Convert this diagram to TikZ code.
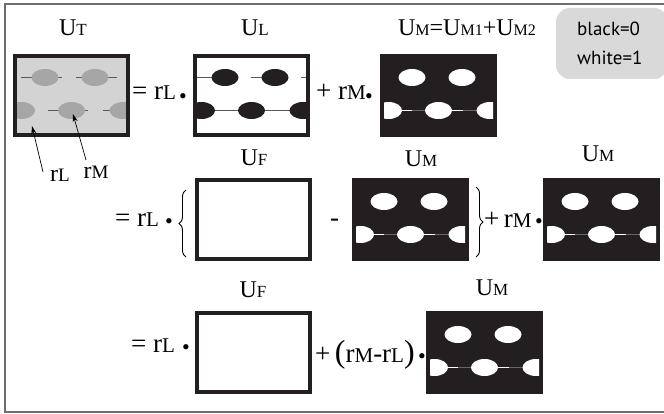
\documentclass[tikz,border=0pt]{standalone}
\usepackage{fontspec}
\setmainfont{Liberation Serif}
\newfontfamily\keyfont{PT Sans}
\usetikzlibrary{decorations.pathreplacing,arrows.meta}
\definecolor{ublack}{HTML}{231F20}
\definecolor{tbg}{HTML}{D3D3D3}
\definecolor{tell}{HTML}{A6A6A6}
\definecolor{keygray}{HTML}{D9D9D9}
\definecolor{framegray}{HTML}{6E6E6E}
\newcommand\sub[1]{{\fontsize{16}{16}\selectfont #1}}
\newcommand\subb[1]{{\fontsize{19}{19}\selectfont #1}}
\newcommand\subc[1]{{\fontsize{17}{17}\selectfont #1}}
\newcommand\subd[1]{{\fontsize{21}{21}\selectfont #1}}
\newcommand\ellset[1]{%
  \foreach \ex/\ey in {32/23.5,82/23.5,8.5/56.5,58.5/56.5,110/56.5}
    \fill[#1] (\ex,\ey) ellipse [x radius=13.5,y radius=8.5];}
\newcommand\UTbox[3]{%
  \node[boxn] (#1) at (#2+58.5,#3+41.5) {};
  \begin{scope}[shift={(#2,#3)}]
    \fill[tbg] (0,0) rectangle (117,83);
    \begin{scope}
      \clip (4,4) rectangle (113,79);
      \draw[gray!70!black, line width=1pt] (8,23.5)--(49,23.5) (63,23.5)--(104,23.5)
        (35,56.5)--(75,56.5) (90,56.5)--(113,56.5);
      \ellset{tell}
    \end{scope}
    \draw[ublack, line width=4pt] (2,2) rectangle (115,81);
  \end{scope}}
\newcommand\ULbox[3]{%
  \node[boxn] (#1) at (#2+58.5,#3+41.5) {};
  \begin{scope}[shift={(#2,#3)}]
    \fill[white] (0,0) rectangle (117,83);
    \begin{scope}
      \clip (4,4) rectangle (113,79);
      \draw[ublack!75, line width=1pt] (4,23.5)--(20,23.5) (58,23.5)--(70,23.5)
        (108,23.5)--(113,23.5) (4,56.5)--(113,56.5);
      \ellset{ublack}
    \end{scope}
    \draw[ublack, line width=4pt] (2,2) rectangle (115,81);
  \end{scope}}
\newcommand\UMbox[3]{%
  \node[boxn] (#1) at (#2+58.5,#3+41.5) {};
  \begin{scope}[shift={(#2,#3)}]
    \fill[ublack] (0,0) rectangle (117,83);
    \begin{scope}
      \clip (4,4) rectangle (113,79);
      \draw[gray!80!black, line width=1pt] (4,56.5)--(113,56.5);
      \draw[white, line width=1pt] (21,56.5)--(32,56.5) (71,56.5)--(83,56.5);
      \ellset{white}
    \end{scope}
  \end{scope}}
\newcommand\UFbox[3]{%
  \node[boxn] (#1) at (#2+58.5,#3+41.5) {};
  \begin{scope}[shift={(#2,#3)}]
    \draw[ublack, line width=4pt] (2,2) rectangle (115,81);
  \end{scope}}
\tikzset{
  boxn/.style={minimum width=117pt, minimum height=83pt, inner sep=0pt, draw=none},
  lbl/.style={font=\fontsize{24}{24}\selectfont, inner sep=0pt, anchor=base},
  eqn/.style={font=\fontsize{27}{27}\selectfont, inner sep=0pt, anchor=base west},
  dotn/.style={font=\fontsize{22}{22}\selectfont, inner sep=0pt, anchor=base},
  keybox/.style={fill=keygray, rounded corners=14pt, minimum width=112pt, minimum height=71pt, inner sep=0pt},
  keytxt/.style={font=\keyfont\fontsize{19}{19}\selectfont, inner sep=0pt, anchor=base west},
  bracel/.style={decorate, decoration={brace, amplitude=7pt}, line width=0.9pt},
  arr/.style={-{Stealth[length=8pt,width=5pt]}, line width=0.7pt}
}
\begin{document}
\begin{tikzpicture}[x=1pt,y=-1pt]
\useasboundingbox (0,0) rectangle (664,414);
\draw[framegray, line width=1.5pt] (5,4) rectangle (667,412);
% key box
\node[keybox] (key) at (612,43.5) {};
\node[keytxt] (k1) at (577,36) {black=0};
\node[keytxt] (k2) at (577,65) {white=1};
% row 1
\UTbox{bUT}{13}{54}
\ULbox{bUL}{193}{54}
\UMbox{bUMa}{380}{54}
\node[lbl] (lUT) at (73,36) {U\subc{T}};
\node[lbl] (lUL) at (255,36) {U\subc{L}};
\node[lbl] (lUMa) at (467,36) {U\sub{M}=U\sub{M1}+U\sub{M2}};
\node[eqn] (e1) at (132,100) {= r\subd{L}};
\node[dotn] (d1) at (183,104) {•};
\node[eqn] (e2) at (316,100) {+ r\subd{M}};
\node[dotn] (d2) at (369,104) {•};
% arrows
\node[lbl] (rl) at (60,182) {r\subb{L}};
\node[lbl] (rm) at (96,179) {r\subb{M}};
\coordinate (rls) at (43,172);
\coordinate (rlt) at (32,126);
\coordinate (rms) at (86,160);
\coordinate (rmt) at (73,114);
\draw[arr] (rls) -- (rlt);
\draw[arr] (rms) -- (rmt);
% row 2
\UFbox{bUFb}{195}{178}
\UMbox{bUMb}{352}{178}
\UMbox{bUMc}{543}{178}
\node[lbl] (lUFb) at (254,166) {U\subc{F}};
\node[lbl] (lUMb) at (421,167) {U\subc{M}};
\node[lbl] (lUMc) at (598,162) {U\subc{M}};
\node[eqn] (e3) at (115,227) {= r\subd{L}};
\node[dotn] (d3) at (169,229) {•};
\coordinate (blb) at (186,257);
\coordinate (blt) at (186,190);
\draw[bracel] (blb) -- (blt);
\node[eqn] (minus) at (330,227) {-};
\coordinate (brt) at (476,187);
\coordinate (brb) at (476,257);
\draw[bracel] (brt) -- (brb);
\node[eqn] (e4) at (484,228) {+\,r\subd{M}};
\node[dotn] (d4) at (539,229) {•};
% row 3
\UFbox{bUFc}{195}{311}
\UMbox{bUMd}{426}{311}
\node[lbl] (lUFc) at (253,297) {U\subc{F}};
\node[lbl] (lUMd) at (492,295) {U\subc{M}};
\node[eqn] (e5) at (131,352) {= r\subd{L}};
\node[dotn] (d5) at (186,354) {•};
\node[eqn] (e6) at (315,362) {+\,{\fontsize{32}{32}\selectfont(}r\subd{M}-r\subd{L}{\fontsize{32}{32}\selectfont)}};
\node[dotn] (d6) at (422,363) {•};
\end{tikzpicture}
\end{document}
